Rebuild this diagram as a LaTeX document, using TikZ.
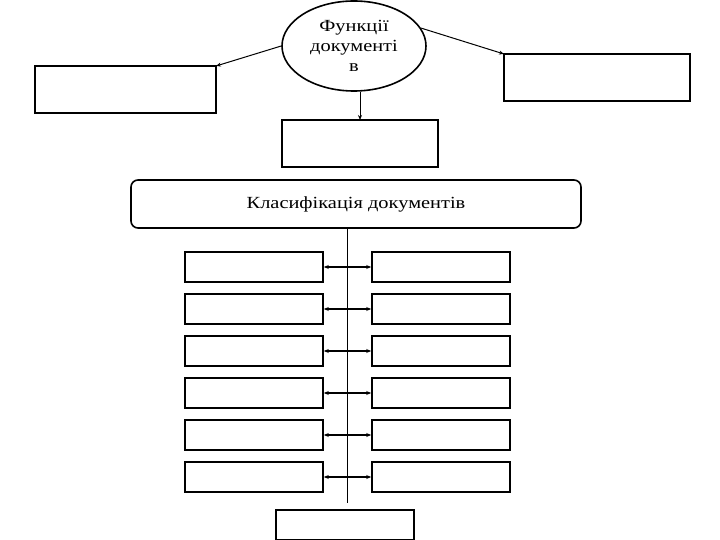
\documentclass[tikz,border=0pt]{standalone}
\usepackage{fontspec}
\setmainfont{Liberation Serif}
\usetikzlibrary{shapes.geometric,arrows.meta}
\begin{document}
\begin{tikzpicture}[x=1pt,y=-1pt,
  bx/.style={draw,line width=1.6pt,inner sep=0},
  ar/.style={-{Stealth[length=5pt,width=4pt]},line width=1pt},
  dar/.style={{Stealth[length=5pt,width=4pt]}-{Stealth[length=5pt,width=4pt]},line width=1.1pt}]
\useasboundingbox (0,0) rectangle (720,540);
\node[draw,ellipse,line width=1.6pt,minimum width=144pt,minimum height=90pt,inner sep=0,align=center,font=\fontsize{17}{20}\selectfont\addfontfeature{FakeStretch=1.2}] (e) at (354,46) {Функції\\документі\\в};
\path[bx] (35,66) rectangle (216,113); \coordinate (l) at (216,66);
\path[bx] (504,54) rectangle (690,101); \coordinate (r) at (504,54);
\path[bx] (282,120) rectangle (438,167); \coordinate (m) at (360,120);
\node[bx,rounded corners=7pt,minimum width=450pt,minimum height=48pt,font=\fontsize{17}{20}\selectfont] (k) at (356,204) {\addfontfeature{FakeStretch=1.2}Класифікація документів};
\draw[ar] (e.180) -- (l);
\draw[ar] (e.15) -- (r);
\draw[ar] (e.south -| m) -- (m);
\coordinate (vt) at (347,228); \coordinate (vb) at (347,503);
\draw[line width=0.8pt] (vt) -- (vb);
\foreach \i/\y in {1/252,2/294,3/336,4/378,5/420,6/462}{
  \node[bx,minimum width=138pt,minimum height=30pt] (a\i) at (254,\y+15) {};
  \node[bx,minimum width=138pt,minimum height=30pt] (b\i) at (441,\y+15) {};
  \draw[dar] (a\i.east) -- (b\i.west);
}
\node[bx,minimum width=138pt,minimum height=30pt] (z) at (345,525) {};
\end{tikzpicture}
\end{document}
